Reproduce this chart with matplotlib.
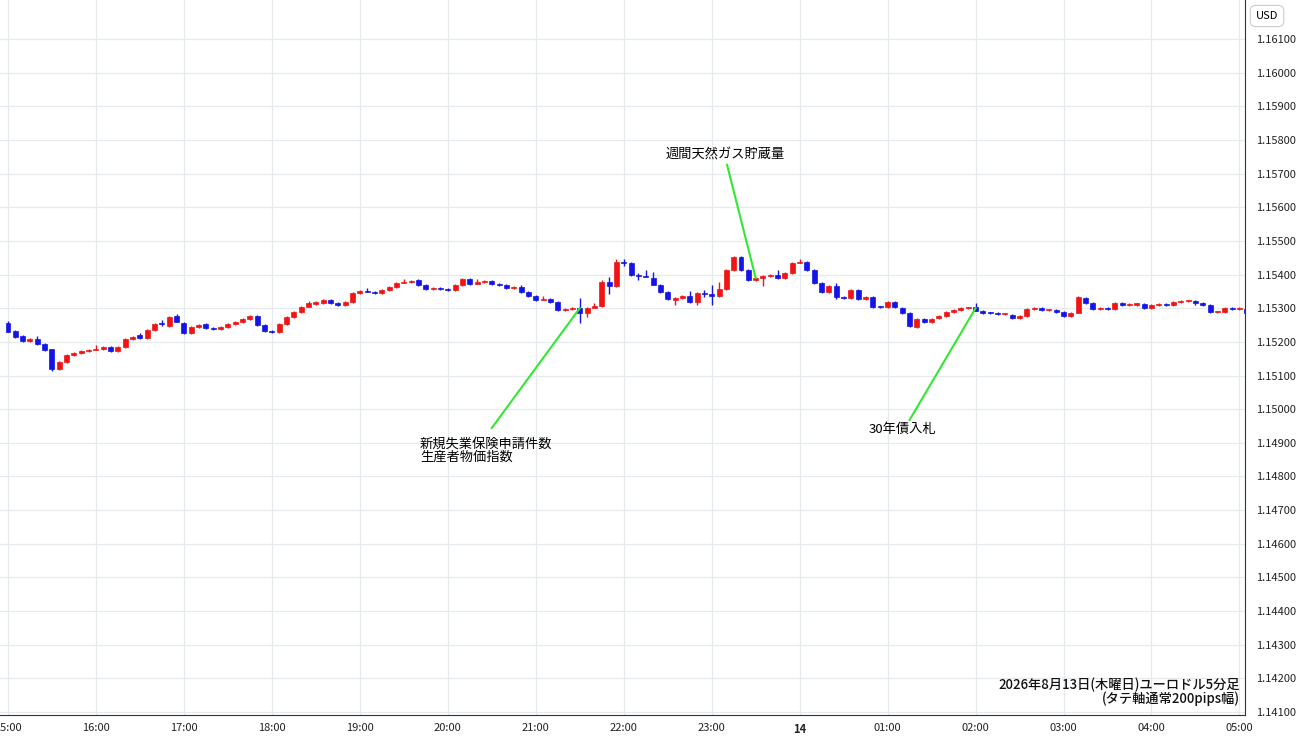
import matplotlib
matplotlib.use("Agg")
import matplotlib.pyplot as plt
import numpy as np

plt.rcParams['font.family'] = ['Noto Sans CJK JP', 'DejaVu Sans']

# EUR/USD 5-minute candles from 15:00, prices in pips above 1.15000
opens = [25.6, 23.2, 21.7, 20.3, 20.8, 19.5, 17.8, 12.0, 14.0, 16.1, 16.6, 17.2,
         17.6, 18.0, 18.6, 17.4, 18.6, 20.8, 22.0, 21.0, 23.6, 25.6, 24.7, 27.6,
         25.6, 22.6, 24.5, 25.2, 24.2, 23.9, 24.4, 25.3, 25.8, 26.8, 27.6, 24.9,
         23.2, 23.0, 25.2, 27.4, 28.8, 30.5, 31.2, 31.5, 32.5, 31.6, 31.0, 31.7,
         34.6, 35.2, 34.9, 34.5, 35.5, 36.2, 37.5, 37.8, 38.4, 37.0, 35.8, 36.1,
         35.7, 35.3, 36.8, 38.8, 37.3, 37.7, 38.0, 37.1, 36.8, 36.0, 36.3, 34.8,
         33.7, 32.4, 32.8, 31.8, 29.6, 29.9, 30.1, 28.7, 30.2, 30.6, 37.8, 36.5,
         43.7, 43.4, 40.0, 39.6, 39.0, 36.9, 34.8, 32.3, 33.0, 33.5, 31.8, 34.5,
         34.2, 33.5, 35.8, 41.4, 45.2, 41.4, 38.4, 39.0, 39.5, 40.0, 38.9, 40.4,
         43.5, 43.7, 41.4, 37.5, 34.8, 36.6, 33.3, 33.0, 35.4, 32.7, 33.2, 30.5,
         30.3, 31.9, 30.2, 28.5, 24.5, 26.8, 25.9, 27.0, 27.8, 28.8, 29.6, 30.0,
         30.4, 29.3, 28.7, 28.5, 28.2, 28.1, 27.0, 27.6, 29.8, 30.0, 29.4, 29.6,
         28.8, 27.7, 28.7, 33.0, 31.5, 29.9, 30.1, 29.8, 31.6, 30.9, 31.1, 31.2,
         30.0, 31.0, 31.2, 30.9, 31.8, 32.0, 32.2, 31.4, 31.0, 28.8, 29.0, 30.0,
         29.8, 29.9]
closes = [23.0, 21.4, 20.3, 20.8, 19.4, 17.6, 11.9, 14.0, 16.1, 16.6, 17.2, 17.6,
          18.0, 18.4, 17.4, 18.6, 20.8, 21.4, 21.0, 23.6, 25.4, 25.2, 27.5, 26.0,
          22.6, 24.5, 25.0, 24.2, 23.9, 24.4, 25.3, 25.8, 26.8, 27.6, 24.9, 23.2,
          23.0, 25.2, 27.4, 28.8, 30.5, 31.4, 31.8, 32.5, 31.6, 31.0, 31.7, 34.6,
          35.2, 34.9, 34.5, 35.5, 36.2, 37.5, 37.8, 38.2, 37.0, 35.8, 36.1, 35.7,
          35.3, 36.8, 38.8, 37.3, 37.7, 38.0, 37.1, 36.8, 36.0, 36.3, 34.8, 33.5,
          32.4, 32.8, 31.8, 29.6, 29.9, 30.1, 28.7, 30.2, 30.6, 37.8, 36.5, 43.7,
          43.3, 40.0, 39.6, 39.3, 36.9, 34.8, 32.7, 33.0, 33.5, 31.8, 34.5, 34.2,
          33.5, 35.8, 41.4, 45.2, 41.4, 38.4, 39.0, 39.5, 39.9, 38.9, 40.4, 43.5,
          43.7, 41.4, 37.5, 34.8, 36.6, 33.3, 33.0, 35.4, 32.7, 33.2, 30.5, 30.3,
          31.9, 30.3, 28.5, 24.7, 26.8, 25.9, 26.9, 27.8, 28.8, 29.6, 30.0, 30.1,
          29.3, 28.7, 28.5, 28.2, 28.4, 27.1, 27.6, 29.8, 30.1, 29.4, 29.6, 28.8,
          27.7, 28.7, 33.2, 31.5, 29.9, 30.1, 29.8, 31.6, 30.9, 31.1, 31.2, 30.0,
          31.0, 31.2, 30.9, 31.8, 32.0, 32.2, 31.4, 31.0, 28.8, 29.0, 30.0, 29.8,
          30.0, 28.7]
# wick overrides: index -> (high, low) in pips
wicks = {0: (26.2, 22.8), 4: (21.6, 19.0), 6: (17.9, 11.4), 7: (14.2, 11.6),
         12: (19.0, 17.5), 14: (18.8, 16.9), 18: (22.5, 20.7), 21: (26.4, 24.6),
         23: (28.2, 25.8), 41: (32.0, 30.3), 49: (36.0, 34.7), 54: (38.6, 37.4),
         64: (38.6, 37.2), 70: (36.8, 34.6), 73: (33.5, 32.3), 78: (33.0, 25.5),
         79: (30.5, 27.5), 80: (31.5, 30.1), 81: (38.5, 30.5), 82: (39.2, 34.3),
         83: (44.5, 36.4), 84: (44.6, 42.6), 86: (40.5, 38.4), 87: (41.4, 39.2),
         88: (40.8, 36.8), 91: (33.2, 31.0), 93: (35.0, 31.6), 94: (34.7, 31.0),
         95: (35.5, 33.3), 96: (37.0, 31.0), 97: (37.8, 33.4), 103: (39.9, 36.5),
         105: (41.5, 38.7), 108: (44.5, 43.4), 113: (37.6, 32.6), 132: (31.5, 29.2),
         146: (33.6, 28.6)}
hour_labels = ['15:00', '16:00', '17:00', '18:00', '19:00', '20:00', '21:00', '22:00',
               '23:00', '14', '01:00', '02:00', '03:00', '04:00', '05:00']

BASE = 1.15
PIP = 0.0001
RED = '#f01414'
BLUE = '#1414e6'
GREEN = '#33e833'

fig = plt.figure(figsize=(13, 7.45), dpi=100)
ax = fig.add_axes([0, 1 - 715 / 745, 1245 / 1300, 715 / 745])

for i, (o, c) in enumerate(zip(opens, closes)):
    hi, lo = wicks.get(i, (max(o, c) + 0.3, min(o, c) - 0.3))
    col = RED if c >= o else BLUE
    ax.vlines(i, BASE + lo * PIP, BASE + hi * PIP, color=col, lw=1.0, zorder=3)
    body = max(abs(c - o), 0.3)
    ax.bar(i, body * PIP, bottom=BASE + min(o, c) * PIP, width=0.68,
           color=col, edgecolor=col, lw=0.5, zorder=4)

spacing = 1245 / 7.33
ax.set_xlim(-8 / 7.33, -8 / 7.33 + spacing)
ax.set_ylim(1.14091, 1.16216)

ax.set_xticks(np.arange(len(hour_labels)) * 12)
ax.set_xticklabels(hour_labels)
for lbl in ax.get_xticklabels():
    if lbl.get_text() == '14':
        lbl.set_fontweight('bold')
ax.set_yticks(np.round(np.arange(1.141, 1.16101, 0.001), 3))
ax.yaxis.set_major_formatter(matplotlib.ticker.FormatStrFormatter('%.5f'))
ax.yaxis.tick_right()
ax.tick_params(axis='both', labelsize=8, colors='#222222', length=0, pad=6)
ax.tick_params(axis='y', pad=8)
ax.grid(True, color='#e4eaee', lw=0.9)
ax.set_axisbelow(True)
for side in ['top', 'left']:
    ax.spines[side].set_visible(False)
ax.spines['right'].set_color('#333333')
ax.spines['bottom'].set_color('#333333')

fig.text(1267 / 1300, 1 - 16 / 745, 'USD', fontsize=8, ha='center', va='center',
         bbox=dict(boxstyle='round,pad=0.5', fc='white', ec='#cccccc', lw=0.8))

# event annotations
ax.plot([98.1, 102], [1.15726, 1.1539], color=GREEN, lw=1.5, zorder=5)
ax.text(97.8, 1.15755, '週間天然ガス貯蔵量', fontsize=9.5, ha='center', va='center')
ax.plot([66, 78], [1.14944, 1.1530], color=GREEN, lw=1.5, zorder=5)
ax.text(56.2, 1.14915, '新規失業保険申請件数\n生産者物価指数', fontsize=9.5,
        ha='left', va='top', linespacing=1.0)
ax.plot([123, 132], [1.14968, 1.1530], color=GREEN, lw=1.5, zorder=5)
ax.text(122, 1.14940, '30年債入札', fontsize=9.5, ha='center', va='center')

ax.text(0.996, 0.012, '2026年8月13日(木曜日)ユーロドル5分足\n(タテ軸通常200pips幅)',
        transform=ax.transAxes, fontsize=9.5, ha='right', va='bottom',
        linespacing=1.0, color='#111111', fontweight='medium')

fig.savefig('out.png', dpi=100)
